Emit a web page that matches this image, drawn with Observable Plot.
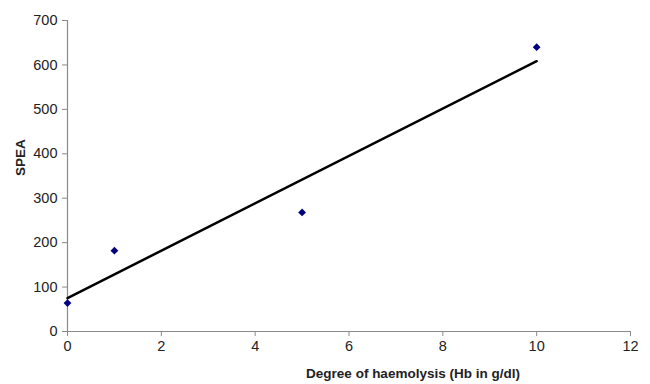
<!DOCTYPE html>
<html>
<head>
<meta charset="utf-8">
<script src="https://cdn.jsdelivr.net/npm/d3@7"></script>
<script src="https://cdn.jsdelivr.net/npm/@observablehq/plot@0.6"></script>
<style>
  html, body { margin: 0; padding: 0; background: #fff; }
</style>
</head>
<body>
<div id="chart"></div>
<script>
const haemolysis = [0, 1, 5, 10];
const spea = [64, 182, 268, 640];
const xTicks = [0, 2, 4, 6, 8, 10, 12];
const yTicks = [0, 100, 200, 300, 400, 500, 600, 700];
const xLabel = "Degree of haemolysis (Hb in g/dl)";
const yLabel = "SPEA";

const data = haemolysis.map((x, i) => ({x, y: spea[i]}));

const chart = Plot.plot({
  width: 650,
  height: 384,
  marginLeft: 67,
  marginRight: 20,
  marginTop: 20,
  marginBottom: 53,
  style: {fontFamily: "'Liberation Sans', Arial, sans-serif", fontSize: "14.5px", background: "#fff", color: "#222"},
  x: {domain: [0, 12]},
  y: {domain: [0, 700]},
  marks: [
    Plot.ruleY([0], {x1: 0, x2: 12, stroke: "#8a8a8a", strokeWidth: 1.2}),
    Plot.ruleX([0], {y1: 0, y2: 700, stroke: "#8a8a8a", strokeWidth: 1.2}),
    Plot.axisX({ticks: xTicks, tickSize: 5, tickPadding: 4, stroke: "#8a8a8a", fill: "#222", label: null, tickFormat: d => String(d)}),
    Plot.axisY({ticks: yTicks, tickSize: 5, tickPadding: 5, stroke: "#8a8a8a", fill: "#222", label: null, tickFormat: d => String(d)}),
    Plot.linearRegressionY(data, {x: "x", y: "y", ci: 0, stroke: "#000", strokeWidth: 2.5}),
    Plot.dot(data, {x: "x", y: "y", symbol: "diamond2", r: 3.5, fill: "#00007f", stroke: "none"}),
    Plot.text([xLabel], {frameAnchor: "bottom", dx: 64, dy: 46, text: d => d, fontWeight: "bold", fontSize: 13.5, fill: "#222"}),
    Plot.text([yLabel], {frameAnchor: "left", dx: -47, rotate: -90, text: d => d, fontWeight: "bold", fontSize: 13.5, fill: "#222"})
  ]
});
document.getElementById("chart").append(chart);
</script>
</body>
</html>
